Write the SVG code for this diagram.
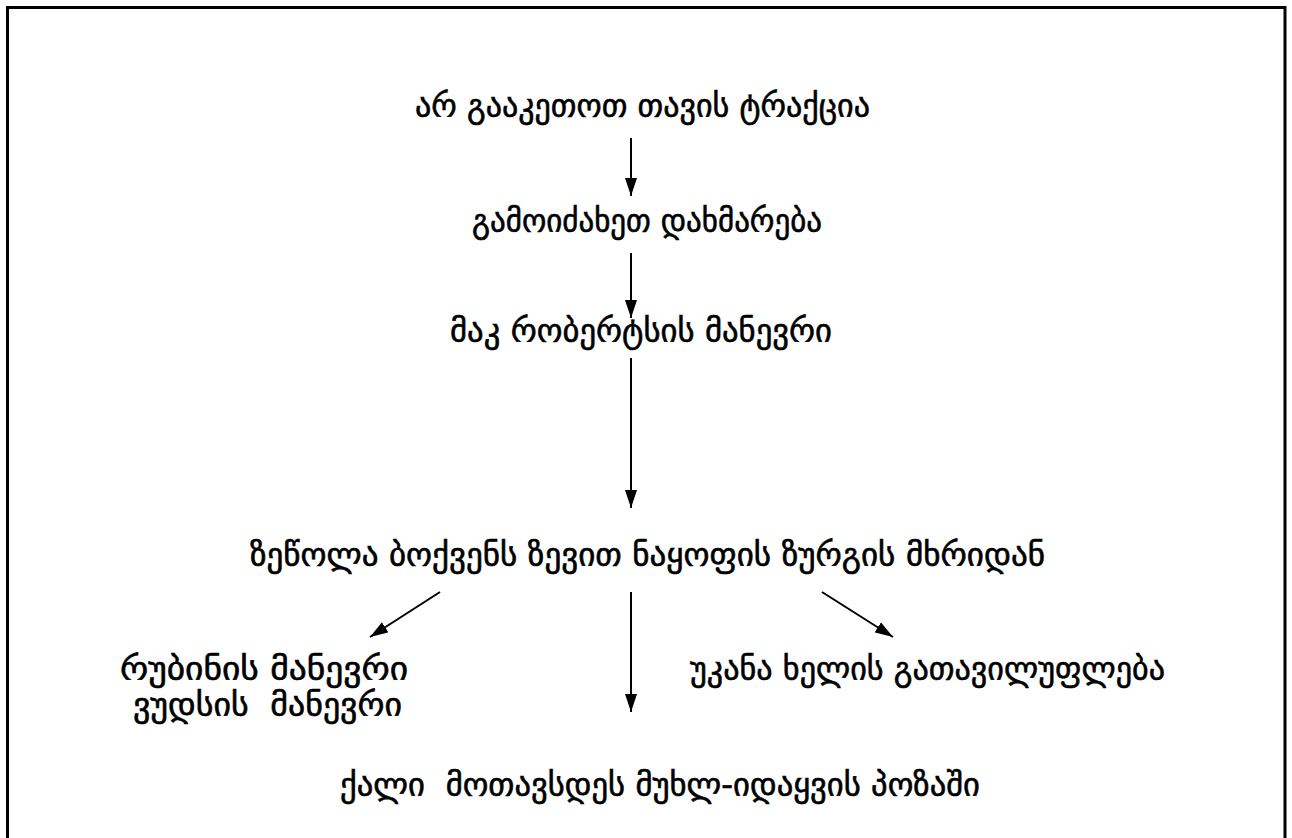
<svg xmlns="http://www.w3.org/2000/svg" width="1292" height="838" viewBox="0 0 1292 838">
<style>
  text { font-family: "DejaVu Sans", "Noto Sans", sans-serif; font-size: 32px; fill: #000; stroke: #000; stroke-width: 0.6; }
  .conn line { stroke: #000; stroke-width: 2; }
</style>
<defs>
  <marker id="ahl" viewBox="0 0 18 12" refX="18" refY="6" markerWidth="18" markerHeight="12" markerUnits="userSpaceOnUse" orient="auto">
    <path d="M0,0 L18,6 L0,12 z" fill="#000"/>
  </marker>
</defs>
<rect width="1292" height="838" fill="#fff"/>
<path d="M7.5,845 V7.5 H1285 V845" fill="none" stroke="#000" stroke-width="3"/>
<g class="conn">
  <line x1="631" y1="138" x2="631" y2="196" marker-end="url(#ahl)"/>
  <line x1="631" y1="253" x2="631" y2="318" marker-end="url(#ahl)"/>
  <line x1="631" y1="358" x2="631" y2="508" marker-end="url(#ahl)"/>
  <line x1="440" y1="592" x2="370" y2="637" marker-end="url(#ahl)"/>
  <line x1="631" y1="592" x2="631" y2="712" marker-end="url(#ahl)"/>
  <line x1="822" y1="592" x2="893" y2="637" marker-end="url(#ahl)"/>
</g>
<g id="n1"><text x="415" y="117" textLength="455" lengthAdjust="spacingAndGlyphs">არ გააკეთოთ თავის ტრაქცია</text></g>
<g id="n2"><text x="472" y="232" textLength="350" lengthAdjust="spacingAndGlyphs">გამოიძახეთ დახმარება</text></g>
<g id="n3"><text x="450" y="342" textLength="382" lengthAdjust="spacingAndGlyphs">მაკ რობერტსის მანევრი</text></g>
<g id="n4"><text x="250" y="566" textLength="795" lengthAdjust="spacingAndGlyphs">ზეწოლა ბოქვენს ზევით ნაყოფის ზურგის მხრიდან</text></g>
<g id="n5"><text x="120" y="680" textLength="288" lengthAdjust="spacingAndGlyphs">რუბინის მანევრი</text><text x="133" y="716" textLength="269" lengthAdjust="spacingAndGlyphs" xml:space="preserve">ვუდსის  მანევრი</text></g>
<g id="n6"><text x="690" y="680" textLength="475" lengthAdjust="spacingAndGlyphs">უკანა ხელის გათავილუფლება</text></g>
<g id="n7"><text x="340" y="796" textLength="640" lengthAdjust="spacingAndGlyphs" xml:space="preserve">ქალი  მოთავსდეს მუხლ-იდაყვის პოზაში</text></g>
</svg>
